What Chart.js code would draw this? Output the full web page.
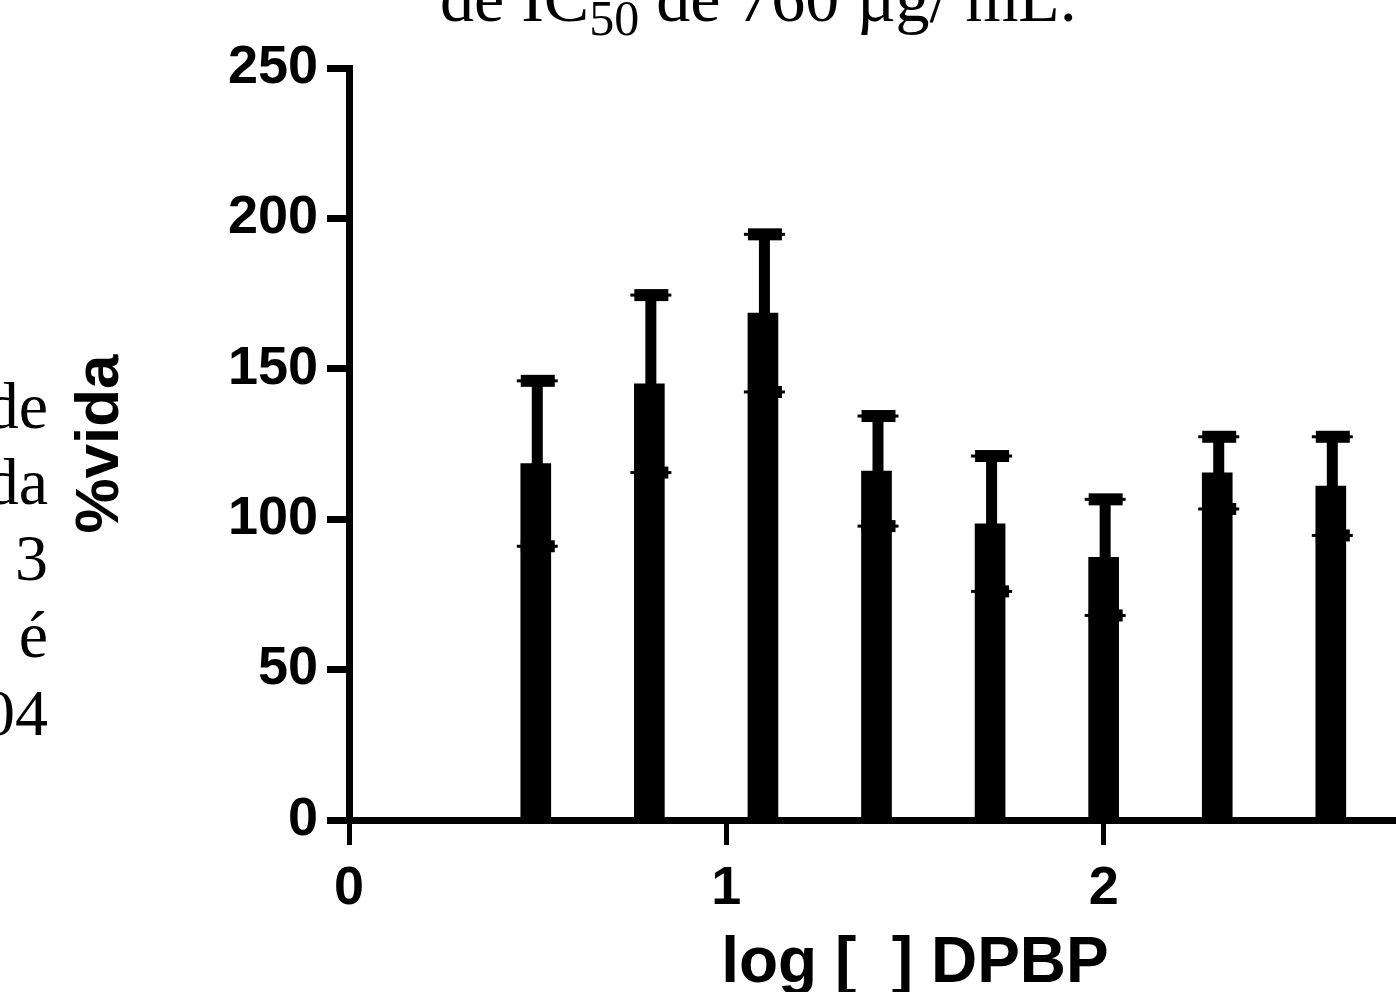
<!DOCTYPE html>
<html>
<head>
<meta charset="utf-8">
<script src="https://cdn.jsdelivr.net/npm/chart.js@4"></script>
<style>
  html, body { margin: 0; padding: 0; background: #fff; }
  body { width: 1396px; height: 992px; overflow: hidden; position: relative; }
  #wrap { position: absolute; left: 0; top: 0; width: 1508px; height: 992px; }
  .doc { position: absolute; font-family: "Liberation Serif", "Times New Roman", serif; color: #000; white-space: pre; }
  #topline { left: 440px; top: -36px; font-size: 68px; line-height: 68px; }
  #topline sub { font-size: 50px; vertical-align: -14px; line-height: 0; }
  .side { right: 1348px; font-size: 66px; line-height: 66px; text-align: right; }
</style>
</head>
<body>
<div id="wrap"><canvas id="chart-main" width="1508" height="992"></canvas></div>
<div class="doc" id="topline">de IC<sub>50</sub> de 760 µg/ mL.</div>
<div class="doc side" style="top:373px">de</div>
<div class="doc side" style="top:449px">da</div>
<div class="doc side" style="top:525px">3</div>
<div class="doc side" style="top:602px">é</div>
<div class="doc side" style="top:680px">04</div>
<script>
// log [DPBP], one bar per concentration
const LOG_DOSE = [0.495, 0.796, 1.097, 1.398, 1.699, 2.0, 2.301, 2.602];
const MEAN_VIDA = [118.5, 145, 168.5, 116, 98.5, 87.3, 115.4, 111];
const SD_VIDA = [27.5, 29.5, 26.2, 18.3, 22.5, 19.3, 12, 16.4];
const X_TICKS = [0, 1, 2, 3];
const Y_TICKS = [0, 50, 100, 150, 200, 250];

const SANS = "'Liberation Sans', Arial, sans-serif";

const errorBars = {
  id: "errorBars",
  afterDatasetsDraw(chart) {
    const { ctx, scales: { x, y } } = chart;
    ctx.save();
    ctx.fillStyle = "#000";
    LOG_DOSE.forEach((d, i) => {
      const cx = x.getPixelForValue(d);
      const hi = y.getPixelForValue(MEAN_VIDA[i] + SD_VIDA[i]);
      const lo = y.getPixelForValue(MEAN_VIDA[i] - SD_VIDA[i]);
      ctx.fillRect(cx - 4, hi, 11, lo - hi);
      for (const py of [hi, lo]) {
        ctx.fillRect(cx - 15, py - 6, 34, 12);
        ctx.fillRect(cx - 19, py - 1.5, 41, 3);
      }
    });
    ctx.restore();
  },
};

const ctx = document.getElementById("chart-main").getContext("2d");
new Chart(ctx, {
  type: "bar",
  data: {
    datasets: [{
      data: LOG_DOSE.map((d, i) => ({ x: d, y: MEAN_VIDA[i] })),
      backgroundColor: "#000",
      borderWidth: 0,
      barThickness: 30,
    }],
  },
  options: {
    responsive: false,
    animation: false,
    devicePixelRatio: 1,
    layout: { padding: { top: 68, right: 19, left: 0, bottom: 0 } },
    plugins: { legend: { display: false }, tooltip: { enabled: false } },
    scales: {
      x: {
        type: "linear",
        min: 0, max: 3,
        offset: false,
        afterBuildTicks: s => { s.ticks = X_TICKS.map(v => ({ value: v })); },
        afterFit: s => { s.height = 172; },
        border: { display: true, color: "#000", width: 7 },
        grid: { display: true, offset: false, drawOnChartArea: false, drawTicks: true, tickLength: 25, tickWidth: 5, tickColor: "#000" },
        ticks: { color: "#000", padding: 12, font: { family: SANS, weight: "bold", size: 54 } },
        title: { display: true, text: "log [\u00a0\u00a0] DPBP", color: "#000", font: { family: SANS, weight: "bold", size: 64, lineHeight: 0.86 }, padding: { top: 0, bottom: 0 } },
      },
      y: {
        min: 0, max: 250,
        afterBuildTicks: s => { s.ticks = Y_TICKS.map(v => ({ value: v })); },
        afterFit: s => { s.width = 349; },
        border: { display: true, color: "#000", width: 7 },
        grid: { display: true, drawOnChartArea: false, drawTicks: true, tickLength: 22, tickWidth: 7, tickColor: "#000" },
        ticks: { color: "#000", padding: 9, font: { family: SANS, weight: "bold", size: 54 } },
        title: { display: true, text: "%vida", color: "#000", font: { family: SANS, weight: "bold", size: 62 }, padding: { top: 64, bottom: 0 } },
      },
    },
  },
  plugins: [errorBars],
});
</script>
</body>
</html>
